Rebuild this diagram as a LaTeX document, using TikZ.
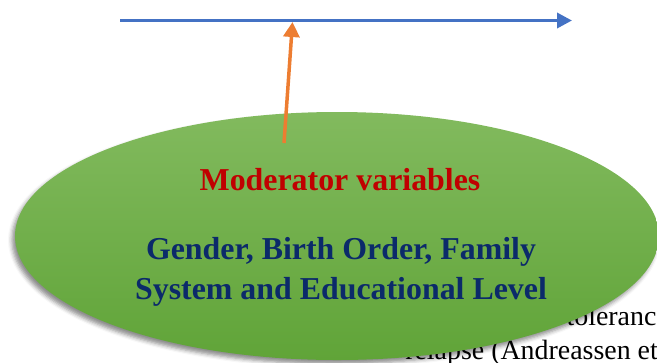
\documentclass[tikz,border=0pt]{standalone}
\usepackage{fontspec}
\setmainfont{Liberation Serif}
\usetikzlibrary{arrows.meta,shapes.geometric,shadows.blur}

\definecolor{flowblue}{HTML}{4472C4}
\definecolor{modorange}{HTML}{ED7D31}
\definecolor{greentop}{HTML}{82BA5E}
\definecolor{greenbot}{HTML}{60A438}
\definecolor{titlered}{HTML}{C00000}
\definecolor{factorblue}{HTML}{0B2A6A}

\begin{document}
\begin{tikzpicture}[x=1bp,y=-1bp,
  modbubble/.style={ellipse, minimum width=644bp, minimum height=248bp,
    top color=greentop, bottom color=greenbot, draw=none,
    blur shadow={shadow xshift=-3pt, shadow yshift=-4pt, shadow blur radius=4pt, shadow opacity=45}},
  titletext/.style={anchor=base, text=titlered, font=\fontsize{32}{40}\selectfont\bfseries},
  factortext/.style={anchor=base, text=factorblue, font=\fontsize{32}{40}\selectfont\bfseries},
  pagetext/.style={anchor=base east, inner sep=0pt, font=\fontsize{28}{34}\selectfont},
  flowarrow/.style={draw=flowblue, line width=3.5bp, -{Triangle[length=15bp,width=15bp]}},
  modarrow/.style={draw=modorange, line width=3.5bp, -{Triangle[length=15bp,width=16bp]}}]

\useasboundingbox (0,0) rectangle (657,362);
\clip (0,0) rectangle (657,362);

% running text of the page behind the bubble
\node[pagetext] (lineA) at (669,325) {tolerance};
\node[pagetext] (lineB) at (658,359) {relapse (Andreassen et};

% the moderator bubble
\node[modbubble] (moderator) at (337,236) {};

% the main path and the arrow onto it
\coordinate (flowstart) at (120,20.5);
\coordinate (flowend) at (572,20.5);
\coordinate (modbase) at (284,143);
\coordinate (modtip) at (292.5,22);
\draw[flowarrow] (flowstart) -- (flowend);
\draw[modarrow] (modbase) -- (modtip);

% labels in the bubble
\node[titletext] (title) at (340,190) {Moderator variables};
\node[factortext] (factorsA) at (341,259) {Gender, Birth Order, Family};
\node[factortext] (factorsB) at (341,299) {System and Educational Level};

\end{tikzpicture}
\end{document}
